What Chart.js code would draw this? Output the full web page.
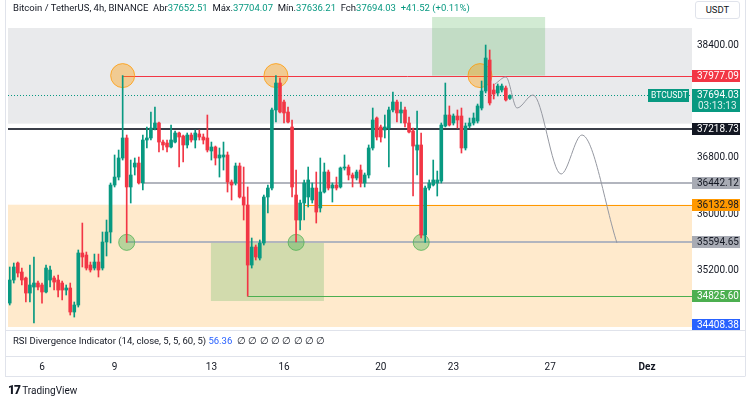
<!DOCTYPE html>
<html>
<head>
<meta charset="utf-8">
<script src="https://cdn.jsdelivr.net/npm/chart.js@4.4.1/dist/chart.umd.min.js"></script>
<style>
html,body{margin:0;padding:0;background:#ffffff;}
#wrap{position:relative;width:750px;height:404px;overflow:hidden;font-family:Roboto,"Liberation Sans",Arial,sans-serif;color:#131722;}
#c{position:absolute;left:0;top:0;}
.ov{position:absolute;white-space:nowrap;font-size:9.5px;line-height:12px;}
.g{color:#089981;}
.b{color:#2962ff;}
</style>
</head>
<body>
<div id="wrap">
<canvas id="c" width="750" height="404"></canvas>
<div class="ov" style="left:13px;top:2px;">Bitcoin / TetherUS, 4h, BINANCE&nbsp; Abr<span class="g">37652.51</span>&nbsp; Máx.<span class="g">37704.07</span>&nbsp; Mín.<span class="g">37636.21</span>&nbsp; Fch<span class="g">37694.03</span>&nbsp; <span class="g">+41.52 (+0.11%)</span></div>
<div class="ov" style="left:695px;top:1px;width:43px;height:16px;line-height:16px;border:1px solid #e0e3eb;border-radius:3px;text-align:center;background:#fff;">USDT</div>
<div class="ov" style="left:13px;top:335px;">RSI Divergence Indicator (14, close, 5, 5, 60, 5) <span class="b">56.36</span>&nbsp; <span>∅ ∅ ∅ ∅ ∅ ∅ ∅ ∅</span></div>
<div class="ov" style="left:8px;top:384px;font-size:10px;"><b style="font-weight:900;font-size:12px;letter-spacing:-1px;">17</b> TradingView</div>
</div>
<script>
// ---- time grid (days of November) ----
const firstCandle = 4 + 16/24;   // Nov 4, 16:00
const candleStep = 4/24;          // 4h candles
const xMin = 4.595, xMax = 32.86;
const dayTicks = [6, 9, 13, 16, 20, 23, 27, 31];
const dayLabels = ['6', '9', '13', '16', '20', '23', '27', 'Dez'];

// ---- price axis ----
const yMin = 34343, yMax = 39057;
const priceTicks = [34400, 35200, 36000, 36800, 37600, 38400];

// ---- OHLC series ----
const open = [34728,35057,35300,35171,35086,34871,34957,35014,34986,34886,
35057,35086,35057,35014,34914,34943,34600,34700,35443,35414,
35271,35228,35314,35228,35600,35743,36414,36528,36800,37086,
36386,36671,36728,36443,37057,37086,37228,37300,37028,37014,
36957,37028,37157,37114,36986,37128,37057,37143,37100,37086,
36900,36957,36800,36814,36843,36457,36443,36686,36243,36128,
35271,35528,35371,35586,36243,36371,37486,37871,37600,37457,
37243,36271,35914,36157,36243,36200,36371,36086,36314,36600,
36371,36414,36386,36657,36671,36557,36514,36628,36443,36557,
36943,37371,37243,37200,37228,37486,37600,37443,37486,37300,
37186,36914,36986,35700,36371,36414,36443,36471,37257,37414,
37300,37400,37400,36943,37257,37300,37328,37514,37757,38200,
37771,37729,37771,37800,37652.51];
const high = [35243,35300,35314,35228,35100,35271,35386,35043,35014,35271,
35257,35114,35128,35043,34986,35014,34743,35486,35871,35457,
35314,35428,35428,35743,35914,36443,36843,36914,37977.09,37128,
36771,36800,36814,37128,37243,37457,37528,37314,37057,37057,
37271,37186,37171,37128,37157,37157,37200,37200,37143,37414,
37028,36971,36943,37028,36886,36486,36728,36728,36671,36386,
35657,35557,35629,36271,36414,37514,37977.09,37943,37629,37528,
37343,36629,36200,36486,36671,36443,36600,36800,36728,36628,
36443,36528,36671,36843,36700,36586,36628,36700,36586,36986,
37514,37386,37271,37414,37528,37743,37629,37600,37528,37386,
37228,37471,37157,36400,36486,36771,36614,37300,37871,37543,
37429,37486,37514,37300,37371,37443,37571,37900,38414,38343,
37857,37857,37857,37828,37704.07];
const low = [34700,35014,35100,34986,34743,34743,34443,34914,34728,34871,
34957,34914,34814,34771,34843,34557,34528,34671,35243,35200,
35171,35200,35100,35200,35400,35586,36386,36486,36771,35594.65,
36157,36557,36428,36343,36943,37057,37200,36886,36914,36886,
36943,37014,36671,36743,36943,37028,36943,37057,37000,36886,
36771,36700,36528,36628,36314,36200,36414,36228,35914,34825.60,
35228,35343,35343,35557,36014,36343,37314,37443,37300,37300,
36243,35600,35771,35914,36100,36157,35871,36028,36300,36343,
36171,36343,36371,36628,36486,36386,36486,36386,36386,36514,
36914,37057,37028,37086,36671,37457,37314,37300,37243,37157,
36257,36557,35660,35594.65,36343,36400,36257,36443,37243,37257,
37271,37228,36871,36914,37228,37271,37300,37486,37729,37557,
37643,37686,37743,37614,37636.21];
const close = [35057,35243,35157,35057,34871,34986,35014,34957,34886,35228,
35200,35028,34914,34914,34943,34600,34700,35443,35386,35228,
35200,35314,35200,35600,35743,36414,36528,36800,37086,36386,
36557,36728,36443,37057,37086,37228,37300,37028,36986,36957,
37057,37157,37100,36986,37128,37057,37157,37100,37057,36914,
36957,36800,36843,36843,36457,36414,36686,36243,36128,35271,
35528,35386,35586,36243,36371,37486,37871,37457,37443,37314,
36386,35914,36157,36443,36486,36371,36028,36314,36600,36371,
36414,36371,36657,36671,36557,36514,36600,36443,36557,36943,
37343,37100,37100,37243,37486,37600,37443,37486,37300,37171,
36971,36986,35700,36371,36443,36486,36486,37271,37414,37271,
37400,37343,36943,37257,37300,37371,37543,37757,38228,37586,
37714,37828,37828,37629,37694.03];

// ---- projected path ----
const projDays   = [24.72, 25.17, 25.63, 26.29, 27.45, 28.31, 29.76];
const projPrices = [37857, 37957, 37514, 37700, 36571, 37128, 35586];

// ---- marked highs / lows ----
const topMarkDays = [9.333, 15.667, 24.1];
const topMarkPrices = [37977.09, 37977.09, 37977.09];
const lowMarkDays = [9.5, 16.5, 21.67];
const lowMarkPrices = [35594.65, 35594.65, 35594.65];

// ---- horizontal levels ----
const levelPrices = [37977.09, 37218.73, 36442.12, 36132.98, 35594.65, 34825.60];
const levelStarts = [9.333, xMin, 10.17, 16.83, 9.5, 14.5];
const lastPrice = 37694.03;
const countdown = '03:13:13';
const bottomPrice = 34408.38;

// ---- zones: [startDay, endDay, topPrice, bottomPrice] ----
const zoneStart = [xMin, xMin, 22.12, 12.98];
const zoneEnd   = [xMax, xMax, 26.79, 17.65];
const zoneTop   = [38657, 36132.98, 38814, 35594.65];
const zoneBot   = [37290, 34386, 37977.09, 34757];

// ---- styles ----
const UP = '#089981', DOWN = '#f23645';
const zoneColors = ['rgba(120,123,134,0.16)', 'rgba(255,152,0,0.2)', 'rgba(76,175,80,0.25)', 'rgba(76,175,80,0.25)'];
const levelStyles = [
  {c:'#f23645', w:1}, {c:'#3a3e48', w:2}, {c:'#b2b5be', w:2},
  {c:'#ff9800', w:1}, {c:'#b2b5be', w:2}, {c:'#4caf50', w:1}
];
const levelLabelStyles = [
  {bg:'#f23645', fg:'#ffffff'}, {bg:'#131722', fg:'#ffffff'}, {bg:'#a8abb4', fg:'#131722'},
  {bg:'#ff9800', fg:'#131722'}, {bg:'#a8abb4', fg:'#131722'}, {bg:'#4caf50', fg:'#ffffff'}
];
const FONT = 'Roboto, "Liberation Sans", Arial, sans-serif';

const times = open.map((_, i) => firstCandle + i * candleStep);
const colors = open.map((o, i) => close[i] >= o ? UP : DOWN);

const overlay = {
  id: 'overlay',
  beforeDatasetsDraw(chart) {
    const {ctx, chartArea: a, scales: {x, y}} = chart;
    ctx.save();
    ctx.beginPath(); ctx.rect(a.left, a.top, a.right - a.left, a.bottom - a.top); ctx.clip();
    zoneStart.forEach((s, i) => {
      const x0 = x.getPixelForValue(s), x1 = x.getPixelForValue(zoneEnd[i]);
      const y0 = y.getPixelForValue(zoneTop[i]), y1 = y.getPixelForValue(zoneBot[i]);
      ctx.fillStyle = zoneColors[i];
      ctx.fillRect(x0, y0, x1 - x0, y1 - y0);
    });
    levelPrices.forEach((p, i) => {
      const yy = Math.round(y.getPixelForValue(p)) + (levelStyles[i].w % 2 ? 0.5 : 0);
      ctx.strokeStyle = levelStyles[i].c; ctx.lineWidth = levelStyles[i].w;
      ctx.beginPath(); ctx.moveTo(x.getPixelForValue(levelStarts[i]), yy); ctx.lineTo(a.right, yy); ctx.stroke();
    });
    const yl = Math.round(y.getPixelForValue(lastPrice)) + 0.5;
    ctx.strokeStyle = UP; ctx.lineWidth = 1; ctx.setLineDash([1, 2]);
    ctx.beginPath(); ctx.moveTo(a.left, yl); ctx.lineTo(a.right, yl); ctx.stroke();
    ctx.restore();
  },
  afterDraw(chart) {
    const {ctx, chartArea: a, scales: {y}} = chart;
    ctx.save();
    ctx.font = '10px ' + FONT; ctx.textBaseline = 'middle'; ctx.textAlign = 'left';
    const box = (p, bg, fg, txt) => {
      const yy = y.getPixelForValue(p);
      ctx.fillStyle = bg; ctx.fillRect(a.right, Math.round(yy) - 6, 48, 12);
      ctx.fillStyle = fg; ctx.fillText(txt, a.right + 5, yy + 0.5);
    };
    levelPrices.forEach((p, i) => box(p, levelLabelStyles[i].bg, levelLabelStyles[i].fg, p.toFixed(2)));
    box(bottomPrice, '#2962ff', '#ffffff', bottomPrice.toFixed(2));
    // last price box with countdown
    const yp = y.getPixelForValue(lastPrice);
    ctx.fillStyle = UP; ctx.fillRect(a.right, Math.round(yp) - 6, 48, 23);
    ctx.fillStyle = '#ffffff';
    ctx.fillText(lastPrice.toFixed(2), a.right + 5, yp + 0.5);
    ctx.fillStyle = 'rgba(255,255,255,0.85)';
    ctx.fillText(countdown, a.right + 6, yp + 11);
    // symbol label
    ctx.fillStyle = UP; ctx.fillRect(a.right - 44, Math.round(yp) - 6, 41, 13);
    ctx.fillStyle = '#ffffff'; ctx.font = '8.5px ' + FONT;
    ctx.fillText('BTCUSDT', a.right - 41, yp + 0.5);
    // frame
    ctx.strokeStyle = '#e0e3eb'; ctx.lineWidth = 1;
    ctx.beginPath();
    ctx.moveTo(5, a.bottom + 0.5); ctx.lineTo(745, a.bottom + 0.5);
    ctx.moveTo(5, 356.5); ctx.lineTo(745, 356.5);
    ctx.moveTo(5, 376.5); ctx.lineTo(745, 376.5);
    ctx.moveTo(5.5, 0); ctx.lineTo(5.5, 376.5);
    ctx.moveTo(745.5, 0); ctx.lineTo(745.5, 376.5);
    ctx.stroke();
    ctx.restore();
  }
};

new Chart(document.getElementById('c'), {
  type: 'bar',
  data: {
    datasets: [
      { type: 'line', data: projDays.map((d, i) => ({x: d, y: projPrices[i]})),
        borderColor: '#9598a1', borderWidth: 1, pointRadius: 0, cubicInterpolationMode: 'monotone', order: 0 },
      { type: 'bar', data: times.map((t, i) => ({x: t, y: [open[i], close[i]]})),
        backgroundColor: colors, barThickness: 3, minBarLength: 1, grouped: false, order: 1 },
      { type: 'bar', data: times.map((t, i) => ({x: t, y: [low[i], high[i]]})),
        backgroundColor: colors, barThickness: 1, minBarLength: 1, grouped: false, order: 2 },
      { type: 'scatter', data: topMarkDays.map((d, i) => ({x: d, y: topMarkPrices[i]})),
        pointRadius: 12, backgroundColor: 'rgba(255,152,0,0.38)', borderColor: 'rgba(255,152,0,0.75)', borderWidth: 1, order: 5 },
      { type: 'scatter', data: lowMarkDays.map((d, i) => ({x: d, y: lowMarkPrices[i]})),
        pointRadius: 8, backgroundColor: 'rgba(76,175,80,0.4)', borderColor: 'rgba(76,175,80,0.75)', borderWidth: 1, order: 5 }
    ]
  },
  options: {
    responsive: false, animation: false,
    layout: {autoPadding: false, padding: {left: 8, top: 0, right: 0, bottom: 0}},
    plugins: {legend: {display: false}, tooltip: {enabled: false}},
    scales: {
      x: {
        type: 'linear', min: xMin, max: xMax, offset: false,
        grid: {display: false, drawTicks: false}, border: {display: false},
        afterBuildTicks: s => { s.ticks = dayTicks.map(v => ({value: v})); },
        afterFit: s => { s.height = 74; s.paddingLeft = 0; s.paddingRight = 0; },
        ticks: {
          autoSkip: false, maxRotation: 0, padding: 31, color: '#131722',
          font: c => ({family: FONT, size: 10, weight: (c.tick && c.tick.value === 31) ? 'bold' : 'normal'}),
          callback: v => dayLabels[dayTicks.indexOf(v)]
        }
      },
      y: {
        type: 'linear', position: 'right', min: yMin, max: yMax,
        grid: {display: false, drawTicks: false}, border: {display: false},
        afterBuildTicks: s => { s.ticks = priceTicks.map(v => ({value: v})); },
        afterFit: s => { s.width = 58; s.paddingTop = 0; s.paddingBottom = 0; },
        ticks: {padding: 5, color: '#131722', font: {family: FONT, size: 10}, callback: v => v.toFixed(2)}
      }
    }
  },
  plugins: [overlay]
});
</script>
</body>
</html>
